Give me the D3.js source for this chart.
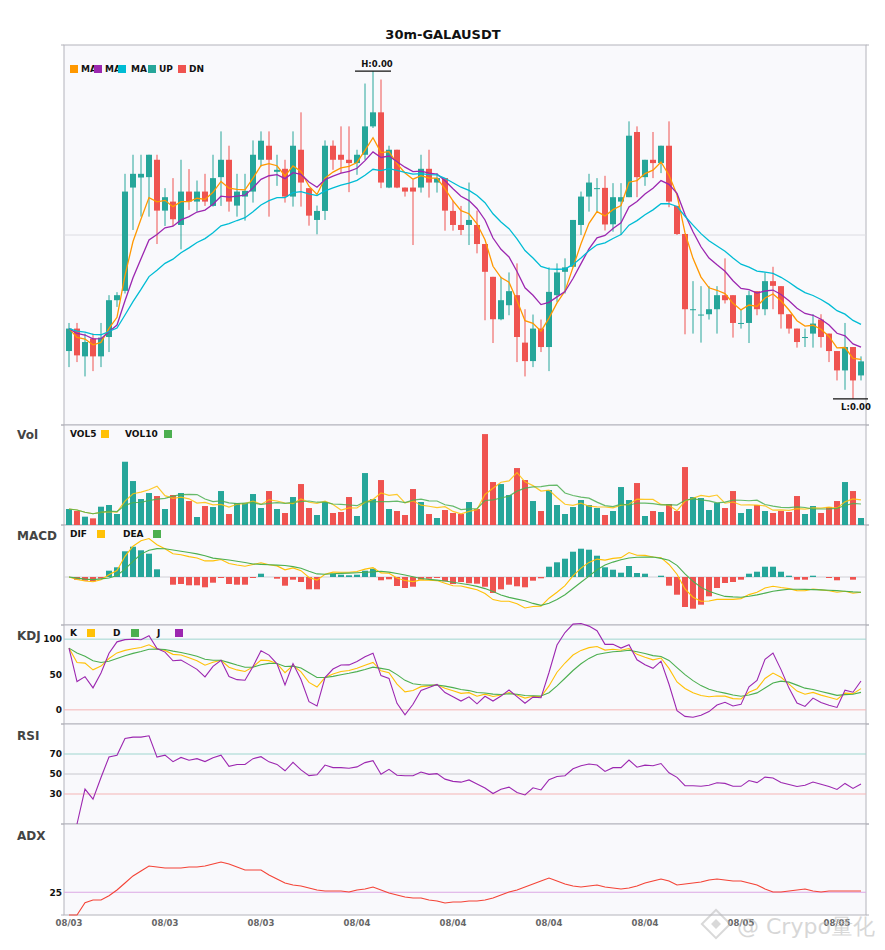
<!DOCTYPE html>
<html>
<head>
<meta charset="utf-8">
<script src="https://cdn.jsdelivr.net/npm/d3@7/dist/d3.min.js"></script>
<style>
  body { margin: 0; background: #fff; font-family: "DejaVu Sans", sans-serif; }
</style>
</head>
<body>
<div id="chart"></div>
<script>
// 30m candles, 100 bars (price in chart units)
const openP = [99.3,121.7,94.0,111.7,94.0,113.3,150.0,159.3,262.3,272.3,272.7,290.0,239.3,248.3,225.0,258.3,248.3,258.3,244.0,272.7,
  290.0,244.3,253.3,258.3,290.0,304.0,278.0,281.0,253.3,300.0,261.7,230.0,239.0,304.0,295.0,290.0,286.7,295.0,323.3,337.3,
  262.3,300.0,262.3,262.3,262.3,281.0,267.3,271.7,239.0,225.0,225.0,225.0,206.0,173.3,131.0,145.0,155.0,107.7,89.3,121.7,
  103.3,155.0,178.3,183.3,225.0,253.3,261.0,262.0,225.7,248.3,252.7,317.7,272.7,290.0,286.7,304.0,244.0,216.0,140.3,135.0,
  136.0,141.0,155.0,155.0,126.7,127.3,159.0,141.0,169.0,164.0,136.0,121.7,112.7,116.7,130.7,116.7,99.3,80.0,103.3,75.0]
const highP = [127.3,127.3,116.7,116.7,127.3,155.0,158.0,276.0,295.0,295.0,295.0,295.0,261.7,271.7,290.0,280.7,269.3,276.0,295.0,318.3,
  304.0,276.0,276.0,309.3,318.3,318.3,295.0,290.0,318.3,337.3,261.7,244.3,309.3,309.3,323.3,323.3,300.0,366.0,378.3,370.0,
  304.0,300.0,262.3,270.0,295.0,300.0,276.7,271.7,249.3,244.0,267.3,239.3,206.0,173.3,173.3,177.7,186.7,141.0,135.7,130.7,
  182.7,186.7,191.7,230.0,258.3,276.0,271.7,274.0,266.7,266.7,328.3,323.3,290.0,317.7,304.0,328.3,244.0,216.0,169.0,164.0,
  164.0,164.0,191.7,155.0,141.0,159.3,159.0,177.7,183.3,164.0,136.0,121.7,121.7,136.0,136.0,116.7,99.3,127.3,103.3,94.0]
const lowP = [83.3,88.3,74.0,79.3,83.3,98.3,143.3,156.7,220.0,233.3,233.3,206.0,224.0,224.0,200.7,240.0,238.3,244.0,243.3,244.0,
  238.3,233.3,229.3,247.3,283.3,233.3,264.0,247.3,243.3,243.3,224.3,215.7,230.0,280.0,276.7,257.7,275.0,290.0,321.7,261.7,
  261.7,261.7,253.3,205.0,257.3,252.3,257.3,219.3,219.3,215.0,205.0,196.7,130.0,107.3,130.0,135.0,88.3,74.0,83.3,98.3,
  79.3,148.3,156.7,183.0,215.0,238.3,238.3,219.5,218.3,215.0,252.7,252.7,264.0,271.7,276.7,242.7,215.0,116.0,116.7,107.7,
  130.7,116.7,146.7,112.7,121.7,107.3,135.0,135.0,141.0,121.7,116.7,102.7,103.3,102.7,102.7,88.3,70.0,60.7,51.7,70.0]
const closeP = [121.7,95.0,108.3,94.0,112.7,150.0,155.0,258.3,276.0,276.0,295.0,239.3,252.7,230.7,258.3,248.3,258.3,248.3,271.7,290.0,
  248.3,258.3,259.0,295.0,309.0,290.0,280.0,253.3,304.0,267.3,234.3,239.0,304.0,290.0,290.0,286.7,295.0,323.3,337.3,267.3,
  300.0,262.3,258.3,258.3,281.0,267.3,271.7,239.3,225.0,220.0,230.0,206.0,178.3,131.0,150.0,159.0,113.3,89.3,121.7,103.3,
  158.3,177.7,182.7,230.0,253.3,267.3,261.7,225.5,252.7,252.7,314.0,272.7,290.0,286.7,304.0,248.3,216.0,141.0,141.0,135.7,
  141.0,155.0,150.0,127.3,127.3,155.0,141.0,169.0,164.3,136.0,121.7,108.3,113.3,126.7,113.3,99.3,80.0,103.3,70.0,89.0]
const volume = [480,420,250,200,550,600,330,1900,1320,780,960,870,480,900,960,720,240,570,540,1020,
  330,660,660,930,510,1020,480,360,840,1230,510,300,690,360,390,840,270,1560,780,1350,
  480,420,300,1080,690,330,210,450,360,330,690,480,2730,1290,1230,900,1710,1350,720,420,
  1050,600,330,540,750,600,510,300,420,1140,750,1260,270,420,390,630,420,1740,840,810,
  450,660,510,1020,360,480,600,420,360,420,390,870,330,570,360,540,720,1290,1020,210]

// MACD (DIF, DEA, histogram)
const difLine = [0,-2.5,-4.0,-4.8,-2.8,2.2,6.4,20.7,30.8,36.3,38.5,32.3,28.3,23.2,22.3,20.4,19.0,16.1,16.1,17.5,
  13.5,12.0,10.7,12.5,14.3,12.3,11.1,7.2,9.1,6.3,-0.5,-3.1,2.7,4.9,4.8,4.8,5.5,7.9,9.3,4.1,
  3.8,-1.0,-3.5,-4.6,-2.9,-3.3,-3.6,-6.2,-8.8,-9.0,-10.9,-12.8,-16.5,-22.6,-24.2,-24.3,-26.8,-31.0,-29.5,-29.1,
  -21.2,-15.2,-8.7,1.2,8.9,14.6,17.9,16.9,18.6,19.4,24.5,21.7,21.6,20.0,19.3,12.5,2.8,-11.9,-20.2,-24.3,
  -24.0,-22.4,-22.4,-22.4,-21.6,-17.6,-15.3,-11.0,-9.2,-10.5,-11.6,-13.6,-13.8,-12.0,-12.9,-13.8,-15.3,-14.3,-16.3,-15.3]
const deaLine = [0,-1.1,-2.1,-2.6,-1.9,-1.0,1.5,7.8,15.6,22.9,26.8,28.4,28.3,27.0,25.8,24.5,23.1,21.2,18.9,18.0,
  17.0,15.8,14.5,13.0,12.6,12.3,11.9,11.5,10.4,8.8,5.7,3.1,2.7,3.2,3.6,3.9,4.3,4.7,5.1,5.7,
  4.9,3.5,2.0,0.3,-1.5,-2.4,-3.1,-4.0,-5.3,-6.5,-7.7,-9.4,-11.6,-14.6,-18.0,-20.4,-22.1,-23.8,-26.4,-28.4,
  -26.3,-22.5,-17.8,-11.5,-5.3,0.9,7.2,12.0,14.9,17.2,19.0,19.7,19.9,20.0,18.6,16.8,11.6,3.1,-4.3,-10.4,
  -14.3,-16.9,-19.4,-19.9,-20.2,-19.2,-17.9,-16.1,-14.3,-13.1,-12.2,-12.2,-12.4,-12.6,-12.9,-13.3,-13.6,-14.3,-14.9,-15.3]
const macdHist = [0,-2.7,-3.7,-4.3,-1.7,6.3,9.7,25.7,30.3,26.7,23.3,7.7,0,-7.7,-7,-8.3,-8.3,-10.3,-5.7,-1,
  -7,-7.7,-7.7,-1,3.3,0,-1.7,-8.7,-2.7,-5,-12.3,-12.3,0,3.3,2.3,1.7,2.3,6.3,8.3,-3.3,
  -2.3,-9,-11,-9.7,-2.7,-1.7,-1,-4.3,-7,-5,-6.3,-6.7,-9.7,-16,-12.3,-7.7,-9.3,-10.3,-3.7,-1.3,
  10.3,14.7,18.3,25.3,28.3,27.3,21.3,9.7,7.3,4.3,11,4,3.3,0,1.3,-8.7,-17.7,-30,-31.7,-27.7,
  -19.3,-11,-6,-5,-2.7,3.3,5.3,10.3,10.3,5.3,1.3,-2.7,-2.7,1.3,0,-1,-3.3,0,-2.7,0]

// ADX
const adxLine = [0,0,13.5,16.5,16.5,21.2,27.5,35.2,42.9,48.4,53.8,52.7,51.6,51.6,51.6,52.7,52.7,53.8,56.0,58.2,
  56.0,52.7,49.5,49.5,49.5,44.0,39.6,35.2,33.0,31.9,29.7,27.5,26.4,26.4,26.4,25.3,27.5,28.6,30.8,27.5,
  24.2,22.0,19.8,18.7,18.7,16.5,15.4,13.2,14.3,14.3,15.4,15.4,16.5,18.7,22.0,25.3,27.5,30.8,34.1,37.4,
  40.7,37.4,34.1,31.9,30.8,31.9,33.0,30.8,29.7,28.6,29.7,31.9,35.2,37.4,39.6,37.4,33.0,34.1,35.2,36.3,
  38.5,39.6,38.5,37.4,37.4,35.2,33.0,28.6,25.3,25.3,26.4,27.5,28.6,26.4,25.3,26.4,26.4,26.4,26.4,26.4]

const xTickIndex = [0, 12, 24, 36, 48, 60, 72, 84, 96]
const xTickLabels = ['08/03', '08/03', '08/03', '08/04', '08/04', '08/04', '08/04', '08/05', '08/05']
const maSpans = [5, 10, 20]
const volWindows = [5, 10]

const UP = '#26a69a', DN = '#ef5350'
const maColors = ['#ff9800', '#9c27b0', '#00bcd4']
const YEL = '#ffc107', GRN = '#4caf50', PUR = '#9c27b0'

// ---- indicator helpers ----
function ema(arr, span) {
    const a = 2 / (span + 1), out = []
    arr.forEach((v, i) => out.push(i === 0 ? v : a * v + (1 - a) * out[i - 1]))
    return out
}
function ewmAlpha(arr, a) {
    const out = []
    arr.forEach((v, i) => out.push(i === 0 ? v : a * v + (1 - a) * out[i - 1]))
    return out
}
function ewmAdjust(arr, a) {
    let num = 0, den = 0
    return arr.map(v => {
        if (isNaN(v)) return NaN
        num = v + (1 - a) * num
        den = 1 + (1 - a) * den
        return num / den
    })
}
function sma(arr, n) {
    return arr.map((v, i) => d3.mean(arr.slice(Math.max(0, i - n + 1), i + 1)))
}

const N = closeP.length
const idx = d3.range(N)
const mas = maSpans.map(s => ema(closeP, s))
const vols = volWindows.map(w => sma(volume, w))

// KDJ (9,3,3)
const rsv = idx.map(i => {
    const lo = d3.min(lowP.slice(Math.max(0, i - 8), i + 1))
    const hi = d3.max(highP.slice(Math.max(0, i - 8), i + 1))
    return hi === lo ? 50 : (closeP[i] - lo) / (hi - lo) * 100
})
const kLine = ewmAlpha(rsv, 1 / 3)
const dLine = ewmAlpha(kLine, 1 / 3)
const jLine = kLine.map((k, i) => 3 * k - 2 * dLine[i])

// RSI 14
const diff = idx.map(i => i === 0 ? NaN : closeP[i] - closeP[i - 1])
const avgGain = ewmAdjust(diff.map(d => isNaN(d) ? NaN : Math.max(d, 0)), 1 / 14)
const avgLoss = ewmAdjust(diff.map(d => isNaN(d) ? NaN : Math.max(-d, 0)), 1 / 14)
const rsi = idx.map(i => isNaN(avgGain[i]) ? NaN : 100 * avgGain[i] / (avgGain[i] + avgLoss[i] || 1))

// ---- layout ----
const W = 885, H = 950
const X0 = 64, X1 = 866
const panels = {
    main: [45, 425], vol: [425, 525], macd: [525, 625],
    kdj: [625, 724], rsi: [724, 824], adx: [824, 915]
}

const svg = d3.select('#chart').append('svg').attr('width', W).attr('height', H)

svg.append('text')
    .attr('x', 443).attr('y', 38.5)
    .attr('text-anchor', 'middle')
    .attr('font-size', 13).attr('font-weight', 'bold').attr('fill', '#111')
    .text('30m-GALAUSDT')

// panel backgrounds
Object.values(panels).forEach(([t, b]) => {
    svg.append('rect')
        .attr('x', X0).attr('y', t).attr('width', X1 - X0).attr('height', b - t)
        .attr('fill', '#f9f9fc').attr('stroke', '#b4b4bc').attr('stroke-width', 1)
    ;[t, b].forEach(yy => {
        svg.append('line').attr('x1', X0 - 3).attr('x2', X0).attr('y1', yy).attr('y2', yy).attr('stroke', '#b4b4bc')
        svg.append('line').attr('x1', X1).attr('x2', X1 + 3).attr('y1', yy).attr('y2', yy).attr('stroke', '#b4b4bc')
    })
})

const x = d3.scaleBand().domain(idx).range([X0, X1]).paddingInner(0.25).paddingOuter(0.25)
const cx = i => x(i) + x.bandwidth() / 2

// ---- main (candles) ----
const lo = d3.min(lowP), hi = d3.max(highP), pad = (hi - lo) * 0.08
const y = d3.scaleLinear().domain([lo - pad, hi + pad]).range([425, 45])

svg.append('line').attr('x1', X0).attr('x2', X1)
    .attr('y1', 235).attr('y2', 235)
    .attr('stroke', '#dcdce2')

const main = svg.append('g')
const candles = main.selectAll('.candle').data(idx).join('g').attr('class', 'candle')
candles.append('line')
    .attr('x1', cx).attr('x2', cx)
    .attr('y1', i => y(highP[i])).attr('y2', i => y(lowP[i]))
    .attr('stroke', i => closeP[i] >= openP[i] ? UP : DN).attr('stroke-width', 1)
candles.append('rect')
    .attr('x', i => x(i)).attr('width', x.bandwidth())
    .attr('y', i => y(Math.max(openP[i], closeP[i])))
    .attr('height', i => Math.max(1, Math.abs(y(openP[i]) - y(closeP[i]))))
    .attr('fill', i => closeP[i] >= openP[i] ? UP : DN)

mas.forEach((m, k) => {
    main.append('path').datum(m)
        .attr('fill', 'none').attr('stroke', maColors[k]).attr('stroke-width', 1.3)
        .attr('d', d3.line().x((d, i) => cx(i)).y(d => y(d)))
})

// high / low markers
const hiIdx = d3.maxIndex(highP), loIdx = d3.minIndex(lowP)
main.append('line').attr('x1', cx(hiIdx) - 18).attr('x2', cx(hiIdx) + 18)
    .attr('y1', y(highP[hiIdx])).attr('y2', y(highP[hiIdx])).attr('stroke', '#111').attr('stroke-width', 1.2)
main.append('text').attr('x', cx(hiIdx) + 4).attr('y', y(highP[hiIdx]) - 4)
    .attr('text-anchor', 'middle').attr('font-size', 8.5).attr('font-weight', 'bold').attr('fill', '#111')
    .text('H:0.00')
main.append('line').attr('x1', cx(loIdx) - 20).attr('x2', cx(loIdx) + 15)
    .attr('y1', y(lowP[loIdx])).attr('y2', y(lowP[loIdx])).attr('stroke', '#111').attr('stroke-width', 1.2)
main.append('text').attr('x', cx(loIdx) + 3).attr('y', y(lowP[loIdx]) + 11)
    .attr('text-anchor', 'middle').attr('font-size', 8.5).attr('font-weight', 'bold').attr('fill', '#111')
    .text('L:0.00')

// legend
function legend(items, yy) {
    items.forEach(it => {
        if (it.box != null) svg.append('rect').attr('x', it.box).attr('y', yy - 4).attr('width', 8).attr('height', 8).attr('fill', it.color)
        if (it.tx != null) svg.append('text').attr('x', it.tx).attr('y', yy + 3.2)
            .attr('font-size', 9).attr('font-weight', 'bold').attr('fill', '#111').text(it.label)
    })
}
legend([
    {tx: 81, label: 'MA'}, {tx: 105, label: 'MA'}, {tx: 131, label: 'MA'},
    {tx: 159, label: 'UP'}, {tx: 189, label: 'DN'},
    {box: 70, color: maColors[0]}, {box: 94, color: maColors[1]}, {box: 118, color: maColors[2]},
    {box: 148, color: UP}, {box: 178, color: DN}
], 69)

// ---- volume ----
const yv = d3.scaleLinear().domain([0, d3.max(volume) * 1.1]).range([525, 425])
svg.append('g').selectAll('rect').data(idx).join('rect')
    .attr('x', i => x(i)).attr('width', x.bandwidth())
    .attr('y', i => yv(volume[i])).attr('height', i => 525 - yv(volume[i]))
    .attr('fill', i => closeP[i] >= openP[i] ? UP : DN)
vols.forEach((v, k) => {
    svg.append('path').datum(v)
        .attr('fill', 'none').attr('stroke', k === 0 ? YEL : GRN).attr('stroke-width', 1.2).attr('opacity', 0.85)
        .attr('d', d3.line().x((d, i) => cx(i)).y(d => yv(d)))
})
legend([{tx: 70, label: 'VOL5'}, {box: 101, color: YEL}, {tx: 125, label: 'VOL10'}, {box: 164, color: GRN}], 434)

// ---- MACD ----
const ym = d3.scaleLinear().domain([-48, 52]).range([625, 525])
svg.append('line').attr('x1', X0).attr('x2', X1).attr('y1', ym(0)).attr('y2', ym(0)).attr('stroke', '#d0d0d6')
svg.append('g').selectAll('rect').data(idx).join('rect')
    .attr('x', i => x(i)).attr('width', x.bandwidth())
    .attr('y', i => Math.min(ym(0), ym(macdHist[i])))
    .attr('height', i => Math.abs(ym(macdHist[i]) - ym(0)))
    .attr('fill', i => macdHist[i] >= 0 ? UP : DN)
;[[difLine, YEL], [deaLine, GRN]].forEach(([s, c]) => {
    svg.append('path').datum(s).attr('fill', 'none').attr('stroke', c).attr('stroke-width', 1.1)
        .attr('d', d3.line().x((d, i) => cx(i)).y(d => ym(d)))
})
legend([{tx: 70, label: 'DIF'}, {box: 97, color: YEL}, {tx: 123, label: 'DEA'}, {box: 153, color: GRN}], 534)

// ---- KDJ ----
const yk = d3.scaleLinear().domain([-20, 120]).range([724, 625])
svg.append('line').attr('x1', X0).attr('x2', X1).attr('y1', yk(100)).attr('y2', yk(100)).attr('stroke', '#9fd6cf')
svg.append('line').attr('x1', X0).attr('x2', X1).attr('y1', yk(0)).attr('y2', yk(0)).attr('stroke', '#f5b5b5')
;[[kLine, YEL], [dLine, GRN], [jLine, PUR]].forEach(([s, c]) => {
    svg.append('path').datum(s).attr('fill', 'none').attr('stroke', c).attr('stroke-width', 1.1)
        .attr('d', d3.line().x((d, i) => cx(i)).y(d => yk(d)))
})
legend([{tx: 70, label: 'K'}, {box: 87, color: YEL}, {tx: 113, label: 'D'}, {box: 131, color: GRN},
    {tx: 157, label: 'J'}, {box: 175, color: PUR}], 633)

// ---- RSI ----
const yr = d3.scaleLinear().domain([0, 100]).range([824, 724])
;[[70, '#9fd6cf'], [50, '#c8c8ce'], [30, '#f5b5b5']].forEach(([v, c]) => {
    svg.append('line').attr('x1', X0).attr('x2', X1).attr('y1', yr(v)).attr('y2', yr(v)).attr('stroke', c)
})
svg.append('path').datum(rsi).attr('fill', 'none').attr('stroke', PUR).attr('stroke-width', 1.1)
    .attr('d', d3.line().defined(d => !isNaN(d)).x((d, i) => cx(i)).y(d => yr(d)))

// ---- ADX ----
const ya = d3.scaleLinear().domain([0, 100]).range([915, 824])
svg.append('line').attr('x1', X0).attr('x2', X1).attr('y1', ya(25)).attr('y2', ya(25)).attr('stroke', '#dba8e4')
svg.append('path').datum(adxLine).attr('fill', 'none').attr('stroke', '#f44336').attr('stroke-width', 1.1)
    .attr('d', d3.line().x((d, i) => cx(i)).y(d => ya(d)))

// ---- axis labels ----
function yLabels(scale, vals) {
    vals.forEach(v => svg.append('text').attr('x', 62).attr('y', scale(v) + 3.3)
        .attr('text-anchor', 'end').attr('font-size', 9).attr('font-weight', 'bold').attr('fill', '#111').text(v))
}
yLabels(yk, [100, 50, 0])
yLabels(yr, [70, 50, 30])
yLabels(ya, [25])

;[['Vol', 434], ['MACD', 535], ['KDJ', 635], ['RSI', 735], ['ADX', 835]].forEach(([t, yy]) => {
    svg.append('text').attr('x', 17).attr('y', yy + 4.5)
        .attr('font-size', 12).attr('font-weight', 'bold').attr('fill', '#444').text(t)
})

svg.append('g').selectAll('text').data(xTickIndex).join('text')
    .attr('x', i => cx(i)).attr('y', 926)
    .attr('text-anchor', 'middle').attr('font-size', 8.5).attr('font-weight', 'bold').attr('fill', '#666')
    .text((d, k) => xTickLabels[k])

// ---- watermark ----
const wm = svg.append('g').attr('opacity', 0.55)
const logo = wm.append('g').attr('transform', 'translate(716,924) rotate(45)')
logo.append('rect').attr('x', -10).attr('y', -10).attr('width', 20).attr('height', 20)
    .attr('fill', 'none').attr('stroke', '#bbb').attr('stroke-width', 2)
logo.append('rect').attr('x', -3.5).attr('y', -3.5).attr('width', 7).attr('height', 7).attr('fill', '#bbb')
wm.append('text').attr('x', 737).attr('y', 934)
    .attr('font-size', 22).attr('fill', '#b8b8b8').text('@ Crypo量化')
</script>
</body>
</html>
